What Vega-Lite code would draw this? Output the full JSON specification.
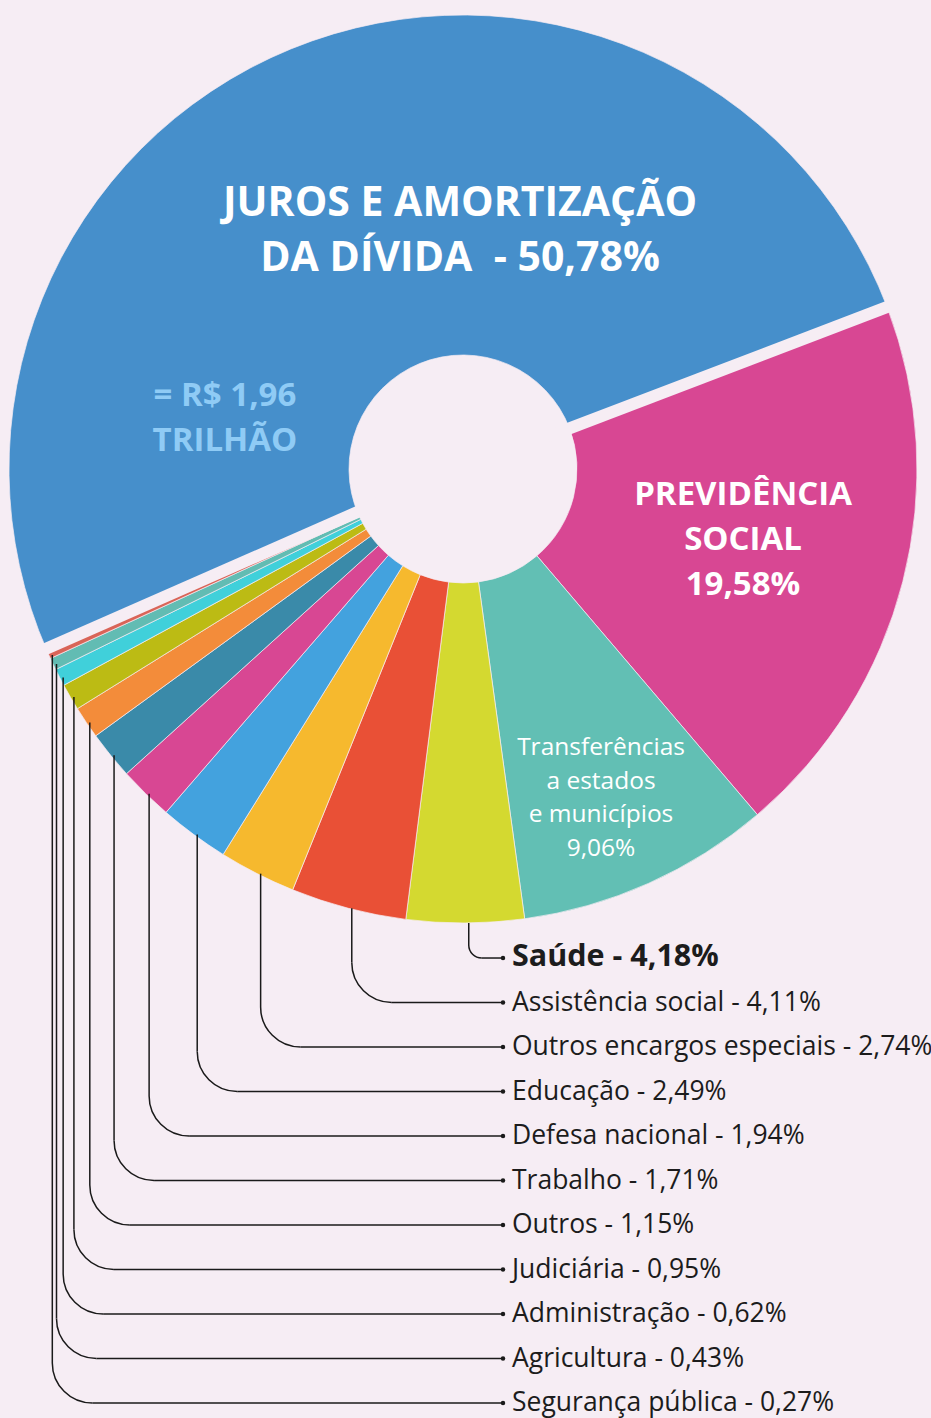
{
  "$schema": "https://vega.github.io/schema/vega-lite/v6.json",
  "width": 926,
  "height": 938,
  "autosize": {"type": "none"},
  "padding": {"left": 0, "top": 0, "right": 5, "bottom": 480},
  "background": "#f6edf4",
  "config": {"view": {"stroke": null}, "font": "Open Sans"},
  "data": {"values": [
    {"nome": "Previdência social", "pct": 19.58, "ordem": 1},
    {"nome": "Transferências a estados e municípios", "pct": 9.06, "ordem": 2},
    {"nome": "Saúde", "pct": 4.18, "ordem": 3},
    {"nome": "Assistência social", "pct": 4.11, "ordem": 4},
    {"nome": "Outros encargos especiais", "pct": 2.74, "ordem": 5},
    {"nome": "Educação", "pct": 2.49, "ordem": 6},
    {"nome": "Defesa nacional", "pct": 1.94, "ordem": 7},
    {"nome": "Trabalho", "pct": 1.71, "ordem": 8},
    {"nome": "Outros", "pct": 1.15, "ordem": 9},
    {"nome": "Judiciária", "pct": 0.95, "ordem": 10},
    {"nome": "Administração", "pct": 0.62, "ordem": 11},
    {"nome": "Agricultura", "pct": 0.43, "ordem": 12},
    {"nome": "Segurança pública", "pct": 0.27, "ordem": 13},
    {"nome": "Juros e amortização da dívida", "pct": 50.78, "ordem": 14}
  ]},
  "transform": [
    {"stack": "pct", "groupby": [], "sort": [{"field": "ordem", "order": "ascending"}], "as": ["v0", "v1"], "offset": "normalize"},
    {"calculate": "(datum.v0 + datum.v1) / 2", "as": "vm"},
    {"calculate": "1.206 + 2 * PI * datum.vm", "as": "ang"},
    {"calculate": "1.206 + 2 * PI * datum.v0", "as": "a0"},
    {"calculate": "1.206 + 2 * PI * datum.v1", "as": "a1"},
    {"calculate": "0.2 * sin(datum.a0) + 0.0066 * cos(datum.a0)", "as": "gxa0"},
    {"calculate": "0.2 * cos(datum.a0) - 0.0066 * sin(datum.a0)", "as": "gya0"},
    {"calculate": "1.03 * sin(datum.a0) + 0.0066 * cos(datum.a0)", "as": "gx0"},
    {"calculate": "1.03 * cos(datum.a0) - 0.0066 * sin(datum.a0)", "as": "gy0"},
    {"calculate": "0.2 * sin(datum.a1)", "as": "gxa1"},
    {"calculate": "0.2 * cos(datum.a1)", "as": "gya1"},
    {"calculate": "1.03 * sin(datum.a1)", "as": "gx1"},
    {"calculate": "1.03 * cos(datum.a1)", "as": "gy1"},
    {"calculate": "sin(datum.ang) + 0.0077", "as": "ex"},
    {"calculate": "cos(datum.ang)", "as": "ey"},
    {"calculate": "(-489 - (datum.ordem - 3) * 44.5) / 454", "as": "ly"},
    {"calculate": "(datum.ordem == 3 ? 13 : 40) / 454", "as": "cr"},
    {"calculate": "datum.ly + datum.cr", "as": "ly2"},
    {"calculate": "datum.ex + datum.cr", "as": "hx0"},
    {"calculate": "0.0881", "as": "xe"},
    {"calculate": "replace(format(datum.pct, '.2f'), '.', ',') + '%'", "as": "pctTxt"},
    {"calculate": "datum.nome + ' - ' + datum.pctTxt", "as": "rotulo"}
  ],
  "layer": [
    {
      "mark": {"type": "arc", "outerRadius": 454, "innerRadius": 114, "stroke": "#f6edf4", "strokeWidth": 0.7},
      "encoding": {
        "theta": {"field": "v0", "type": "quantitative", "scale": {"domain": [0, 1], "range": [1.206, 7.48919]}},
        "theta2": {"field": "v1"},
        "color": {"field": "nome", "type": "nominal", "legend": null, "scale": {
          "domain": ["Previdência social", "Transferências a estados e municípios", "Saúde", "Assistência social", "Outros encargos especiais", "Educação", "Defesa nacional", "Trabalho", "Outros", "Judiciária", "Administração", "Agricultura", "Segurança pública", "Juros e amortização da dívida"],
          "range": ["#d84793", "#62bfb4", "#d4d930", "#e95036", "#f6b92e", "#43a2de", "#d84793", "#3a8aa9", "#f38c3a", "#bcbb14", "#40d0da", "#62bcb3", "#d96458", "#468fcb"]}}
      }
    },
    {
      "transform": [{"filter": "datum.ordem == 14"}],
      "mark": {"type": "rule", "color": "#f6edf4", "strokeWidth": 12},
      "encoding": {
        "x": {"field": "gxa0", "type": "quantitative", "scale": {"domain": [-1.0198, 1.0198], "nice": false, "zero": false}, "axis": null},
        "y": {"field": "gya0", "type": "quantitative", "scale": {"domain": [-1.033, 1.033], "nice": false, "zero": false}, "axis": null},
        "x2": {"field": "gx0"},
        "y2": {"field": "gy0"}
      }
    },
    {
      "transform": [{"filter": "datum.ordem == 14"}],
      "mark": {"type": "rule", "color": "#f6edf4", "strokeWidth": 12},
      "encoding": {
        "x": {"field": "gxa1", "type": "quantitative", "scale": {"domain": [-1.0198, 1.0198], "nice": false, "zero": false}, "axis": null},
        "y": {"field": "gya1", "type": "quantitative", "scale": {"domain": [-1.033, 1.033], "nice": false, "zero": false}, "axis": null},
        "x2": {"field": "gx1"},
        "y2": {"field": "gy1"}
      }
    },
    {
      "transform": [{"filter": "datum.ordem >= 3 && datum.ordem <= 13"}],
      "mark": {"type": "rule", "color": "#1a1a1a", "strokeWidth": 1.5},
      "encoding": {
        "x": {"field": "ex", "type": "quantitative", "scale": {"domain": [-1.0198, 1.0198], "nice": false, "zero": false}, "axis": null},
        "y": {"field": "ey", "type": "quantitative", "scale": {"domain": [-1.033, 1.033], "nice": false, "zero": false}, "axis": null},
        "y2": {"field": "ly2"}
      }
    },
    {
      "transform": [{"filter": "datum.ordem >= 4 && datum.ordem <= 13"}],
      "mark": {"type": "arc", "theta": 3.14159, "theta2": 4.71239, "outerRadius": 40, "innerRadius": 40, "filled": false, "stroke": "#1a1a1a", "strokeWidth": 1.5},
      "encoding": {
        "x": {"field": "hx0", "type": "quantitative", "scale": {"domain": [-1.0198, 1.0198], "nice": false, "zero": false}, "axis": null},
        "y": {"field": "ly2", "type": "quantitative", "scale": {"domain": [-1.033, 1.033], "nice": false, "zero": false}, "axis": null}
      }
    },
    {
      "transform": [{"filter": "datum.ordem == 3"}],
      "mark": {"type": "arc", "theta": 3.14159, "theta2": 4.71239, "outerRadius": 13, "innerRadius": 13, "filled": false, "stroke": "#1a1a1a", "strokeWidth": 1.5},
      "encoding": {
        "x": {"field": "hx0", "type": "quantitative", "scale": {"domain": [-1.0198, 1.0198], "nice": false, "zero": false}, "axis": null},
        "y": {"field": "ly2", "type": "quantitative", "scale": {"domain": [-1.033, 1.033], "nice": false, "zero": false}, "axis": null}
      }
    },
    {
      "transform": [{"filter": "datum.ordem >= 3 && datum.ordem <= 13"}],
      "mark": {"type": "rule", "color": "#1a1a1a", "strokeWidth": 1.5},
      "encoding": {
        "x": {"field": "hx0", "type": "quantitative", "scale": {"domain": [-1.0198, 1.0198], "nice": false, "zero": false}, "axis": null},
        "x2": {"field": "xe"},
        "y": {"field": "ly", "type": "quantitative", "scale": {"domain": [-1.033, 1.033], "nice": false, "zero": false}, "axis": null}
      }
    },
    {
      "transform": [{"filter": "datum.ordem >= 3 && datum.ordem <= 13"}],
      "mark": {"type": "circle", "size": 20, "color": "#1a1a1a", "opacity": 1},
      "encoding": {
        "x": {"field": "xe", "type": "quantitative", "scale": {"domain": [-1.0198, 1.0198], "nice": false, "zero": false}, "axis": null},
        "y": {"field": "ly", "type": "quantitative", "scale": {"domain": [-1.033, 1.033], "nice": false, "zero": false}, "axis": null}
      }
    },
    {
      "transform": [{"filter": "datum.ordem >= 4 && datum.ordem <= 13"}],
      "mark": {"type": "text", "align": "left", "baseline": "middle", "dx": 9, "dy": 0, "fontSize": 26.5, "font": "Open Sans", "color": "#1c1c1c"},
      "encoding": {
        "x": {"field": "xe", "type": "quantitative", "scale": {"domain": [-1.0198, 1.0198], "nice": false, "zero": false}, "axis": null},
        "y": {"field": "ly", "type": "quantitative", "scale": {"domain": [-1.033, 1.033], "nice": false, "zero": false}, "axis": null},
        "text": {"field": "rotulo", "type": "nominal"}
      }
    },
    {
      "transform": [{"filter": "datum.ordem == 3"}],
      "mark": {"type": "text", "align": "left", "baseline": "middle", "dx": 9, "dy": -1, "fontSize": 30.5, "fontWeight": "bold", "font": "Open Sans", "color": "#1c1c1c"},
      "encoding": {
        "x": {"field": "xe", "type": "quantitative", "scale": {"domain": [-1.0198, 1.0198], "nice": false, "zero": false}, "axis": null},
        "y": {"field": "ly", "type": "quantitative", "scale": {"domain": [-1.033, 1.033], "nice": false, "zero": false}, "axis": null},
        "text": {"field": "rotulo", "type": "nominal"}
      }
    },
    {
      "transform": [
        {"filter": "datum.ordem == 14"},
        {"calculate": "['JUROS E AMORTIZAÇÃO', 'DA DÍVIDA \u00a0- ' + datum.pctTxt]", "as": "lab"},
        {"calculate": "(240.5 / 454) * sin(datum.ang + 0.377)", "as": "tx"},
        {"calculate": "(240.5 / 454) * cos(datum.ang + 0.377)", "as": "ty"}
      ],
      "mark": {"type": "text", "dy": -24.5, "fontSize": 41, "fontWeight": "bold", "font": "Open Sans", "color": "#ffffff", "align": "center", "baseline": "middle", "lineHeight": 55},
      "encoding": {
        "x": {"field": "tx", "type": "quantitative", "scale": {"domain": [-1.0198, 1.0198], "nice": false, "zero": false}, "axis": null},
        "y": {"field": "ty", "type": "quantitative", "scale": {"domain": [-1.033, 1.033], "nice": false, "zero": false}, "axis": null},
        "text": {"field": "lab", "type": "nominal"}
      }
    },
    {
      "transform": [
        {"filter": "datum.ordem == 14"},
        {"calculate": "['= R$ 1,96', 'TRILHÃO']", "as": "lab"},
        {"calculate": "(244 / 454) * sin(datum.ang - 0.96)", "as": "tx"},
        {"calculate": "(244 / 454) * cos(datum.ang - 0.96)", "as": "ty"}
      ],
      "mark": {"type": "text", "dy": -19.5, "fontSize": 33, "fontWeight": "bold", "font": "Open Sans", "color": "#8fcbf5", "align": "center", "baseline": "middle", "lineHeight": 45},
      "encoding": {
        "x": {"field": "tx", "type": "quantitative", "scale": {"domain": [-1.0198, 1.0198], "nice": false, "zero": false}, "axis": null},
        "y": {"field": "ty", "type": "quantitative", "scale": {"domain": [-1.033, 1.033], "nice": false, "zero": false}, "axis": null},
        "text": {"field": "lab", "type": "nominal"}
      }
    },
    {
      "transform": [
        {"filter": "datum.ordem == 1"},
        {"calculate": "['PREVIDÊNCIA', 'SOCIAL', datum.pctTxt]", "as": "lab"},
        {"calculate": "(288.4 / 454) * sin(datum.ang - 0.0087)", "as": "tx"},
        {"calculate": "(288.4 / 454) * cos(datum.ang - 0.0087)", "as": "ty"}
      ],
      "mark": {"type": "text", "dy": -43, "fontSize": 33, "fontWeight": "bold", "font": "Open Sans", "color": "#ffffff", "align": "center", "baseline": "middle", "lineHeight": 45},
      "encoding": {
        "x": {"field": "tx", "type": "quantitative", "scale": {"domain": [-1.0198, 1.0198], "nice": false, "zero": false}, "axis": null},
        "y": {"field": "ty", "type": "quantitative", "scale": {"domain": [-1.033, 1.033], "nice": false, "zero": false}, "axis": null},
        "text": {"field": "lab", "type": "nominal"}
      }
    },
    {
      "transform": [
        {"filter": "datum.ordem == 2"},
        {"calculate": "['Transferências', 'a estados', 'e municípios', datum.pctTxt]", "as": "lab"},
        {"calculate": "(355.4 / 454) * sin(datum.ang + 0.022)", "as": "tx"},
        {"calculate": "(355.4 / 454) * cos(datum.ang + 0.022)", "as": "ty"}
      ],
      "mark": {"type": "text", "dy": -48.5, "fontSize": 24.5, "font": "Open Sans", "color": "#ffffff", "align": "center", "baseline": "middle", "lineHeight": 33.7},
      "encoding": {
        "x": {"field": "tx", "type": "quantitative", "scale": {"domain": [-1.0198, 1.0198], "nice": false, "zero": false}, "axis": null},
        "y": {"field": "ty", "type": "quantitative", "scale": {"domain": [-1.033, 1.033], "nice": false, "zero": false}, "axis": null},
        "text": {"field": "lab", "type": "nominal"}
      }
    }
  ]
}
